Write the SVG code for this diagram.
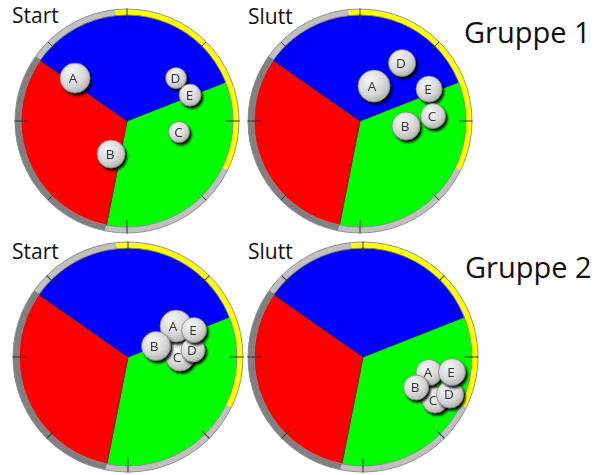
<svg xmlns="http://www.w3.org/2000/svg" xmlns:xlink="http://www.w3.org/1999/xlink" width="603" height="475" viewBox="0 0 603 475">
<style>
.title{font-family:"Open Sans","Liberation Sans",sans-serif;fill:#111}
.lbl{font-family:"Open Sans","Liberation Sans",sans-serif;font-size:13.5px;fill:#333;text-anchor:middle}
.ball{fill:url(#ballg);stroke:#7a7a7a;stroke-width:0.7}
.seg{fill:none;stroke-width:6}
.edge{fill:none;stroke:#8a8a8a;stroke-width:0.9}
.tick{stroke:#333;stroke-width:1}
.sec{stroke:#222;stroke-width:0.6}
</style>
<defs>
<radialGradient id="ballg" cx="0.38" cy="0.32" r="0.8">
<stop offset="0" stop-color="#f6f6f6"/>
<stop offset="0.55" stop-color="#d8d8d8"/>
<stop offset="1" stop-color="#a6a6a6"/>
</radialGradient>
<filter id="sh" x="-40%" y="-40%" width="190%" height="190%">
<feDropShadow dx="2" dy="2.5" stdDeviation="0.8" flood-color="#000" flood-opacity="0.9"/>
</filter>
<g id="wheel">
<path class="sec" fill="#00ff00" d="M0,0 L99.55,-39.22 A107,107 0 0 1 -20.78,104.96 Z"/>
<path class="sec" fill="#ff0000" d="M0,0 L-20.78,104.96 A107,107 0 0 1 -87.65,-61.37 Z"/>
<path class="sec" fill="#0000ff" d="M0,0 L-87.65,-61.37 A107,107 0 0 1 99.55,-39.22 Z"/>
<path class="seg" stroke="#ffff00" d="M-11.39,-108.40 A109,109 0 0 1 97.97,47.78"/>
<path class="seg" stroke="#c0c0c0" d="M97.97,47.78 A109,109 0 0 1 -21.36,106.89"/>
<path class="seg" stroke="#808080" d="M-21.36,106.89 A109,109 0 0 1 -88.74,-63.30"/>
<path class="seg" stroke="#c0c0c0" d="M-88.74,-63.30 A109,109 0 0 1 -11.39,-108.40"/>
<circle class="edge" r="112"/>
<circle class="edge" r="106"/>
<line class="tick" x1="0" y1="-112.5" x2="0" y2="-99"/>
<line class="tick" x1="112.5" y1="0" x2="99" y2="0"/>
<line class="tick" x1="0" y1="112.5" x2="0" y2="99"/>
<line class="tick" x1="-112.5" y1="0" x2="-99" y2="0"/>
<line class="tick" x1="79.2" y1="-79.2" x2="72.1" y2="-72.1"/>
<line class="tick" x1="79.2" y1="79.2" x2="72.1" y2="72.1"/>
<line class="tick" x1="-79.2" y1="79.2" x2="-72.1" y2="72.1"/>
<line class="tick" x1="-79.2" y1="-79.2" x2="-72.1" y2="-72.1"/>
</g>
</defs>

<g id="wheel1"><use xlink:href="#wheel" href="#wheel" transform="translate(127,121)"/></g>
<g id="wheel2"><use xlink:href="#wheel" href="#wheel" transform="translate(360,121)"/></g>
<g id="wheel3"><use xlink:href="#wheel" href="#wheel" transform="translate(128,357) scale(1.027)"/></g>
<g id="wheel4"><use xlink:href="#wheel" href="#wheel" transform="translate(363,357) scale(1.027)"/></g>

<g id="connectors"/>

<g id="texts">
<text class="title" x="12" y="23" font-size="21">Start</text>
<text class="title" x="248" y="24" font-size="21">Slutt</text>
<text class="title" x="464" y="43" font-size="29">Gruppe 1</text>
<text class="title" x="12" y="259" font-size="21">Start</text>
<text class="title" x="248" y="259" font-size="21">Slutt</text>
<text class="title" x="465" y="278" font-size="29">Gruppe 2</text>
</g>

<g id="g1start">
<g id="g1s-A" filter="url(#sh)"><circle class="ball" cx="75" cy="78" r="15"/><text class="lbl" x="73" y="82.5">A</text></g>
<g id="g1s-B" filter="url(#sh)"><circle class="ball" cx="111" cy="154" r="14"/><text class="lbl" x="110" y="158.5">B</text></g>
<g id="g1s-C" filter="url(#sh)"><circle class="ball" cx="179" cy="132" r="10.5"/><text class="lbl" x="178.5" y="136.5">C</text></g>
<g id="g1s-D" filter="url(#sh)"><circle class="ball" cx="176" cy="78" r="10.5"/><text class="lbl" x="175.5" y="82.5">D</text></g>
<g id="g1s-E" filter="url(#sh)"><circle class="ball" cx="190" cy="95" r="11"/><text class="lbl" x="189.5" y="99.5">E</text></g>
</g>

<g id="g1end">
<g id="g1e-A" filter="url(#sh)"><circle class="ball" cx="374" cy="86" r="16"/><text class="lbl" x="372" y="90.5">A</text></g>
<g id="g1e-D" filter="url(#sh)"><circle class="ball" cx="402" cy="63" r="13.5"/><text class="lbl" x="401" y="67.5">D</text></g>
<g id="g1e-E" filter="url(#sh)"><circle class="ball" cx="429" cy="89" r="13"/><text class="lbl" x="428" y="93.5">E</text></g>
<g id="g1e-B" filter="url(#sh)"><circle class="ball" cx="406" cy="126" r="14"/><text class="lbl" x="405" y="130.5">B</text></g>
<g id="g1e-C" filter="url(#sh)"><circle class="ball" cx="433" cy="116" r="12.5"/><text class="lbl" x="432" y="120.5">C</text></g>
</g>

<g id="g2start">
<g id="g2s-C" filter="url(#sh)"><circle class="ball" cx="180" cy="356.5" r="14.5"/><text class="lbl" x="177" y="362">C</text></g>
<g id="g2s-A" filter="url(#sh)"><circle class="ball" cx="176" cy="326" r="16"/><text class="lbl" x="173" y="331">A</text></g>
<g id="g2s-D" filter="url(#sh)"><circle class="ball" cx="193" cy="350" r="12"/><text class="lbl" x="192" y="354.5">D</text></g>
<g id="g2s-B" filter="url(#sh)"><circle class="ball" cx="156" cy="346" r="14.5"/><text class="lbl" x="154" y="350.5">B</text></g>
<g id="g2s-E" filter="url(#sh)"><circle class="ball" cx="194" cy="330" r="12.5"/><text class="lbl" x="193" y="334.5">E</text></g>
</g>

<g id="g2end">
<g id="g2e-C" filter="url(#sh)"><circle class="ball" cx="435" cy="400" r="13"/><text class="lbl" x="433" y="404.5">C</text></g>
<g id="g2e-A" filter="url(#sh)"><circle class="ball" cx="429" cy="372.5" r="13"/><text class="lbl" x="428" y="377">A</text></g>
<g id="g2e-D" filter="url(#sh)"><circle class="ball" cx="450" cy="394.5" r="13.5"/><text class="lbl" x="449" y="399">D</text></g>
<g id="g2e-B" filter="url(#sh)"><circle class="ball" cx="416" cy="387.5" r="12.5"/><text class="lbl" x="415" y="392">B</text></g>
<g id="g2e-E" filter="url(#sh)"><circle class="ball" cx="452" cy="372" r="13.5"/><text class="lbl" x="451" y="376.5">E</text></g>
</g>
</svg>
